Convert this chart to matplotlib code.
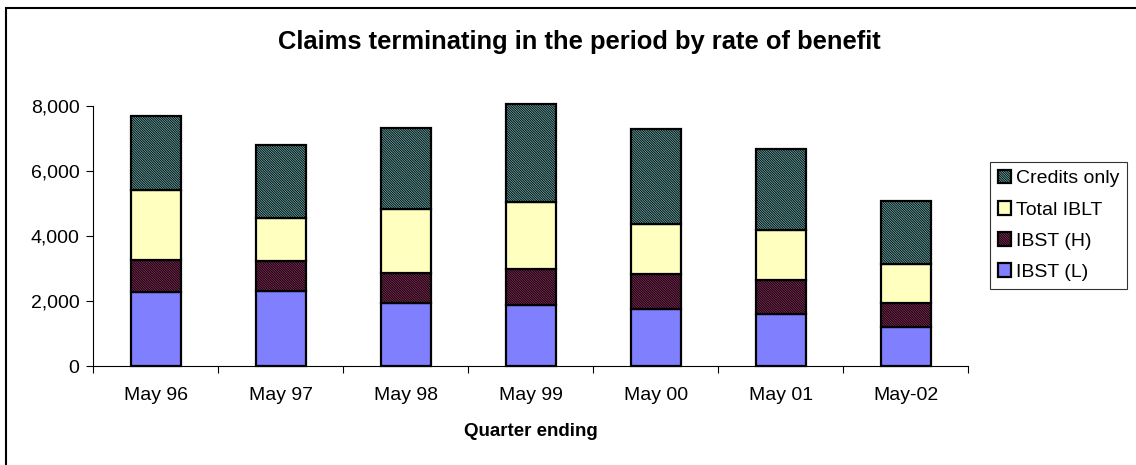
import numpy as np
import matplotlib
matplotlib.use("Agg")
import matplotlib.pyplot as plt
from matplotlib.patches import Rectangle
from matplotlib.ticker import FuncFormatter

# data
quarters = ["May 96", "May 97", "May 98", "May 99", "May 00", "May 01", "May-02"]
ibst_l = [2280, 2290, 1930, 1880, 1750, 1600, 1200]
ibst_h = [980, 940, 920, 1100, 1080, 1030, 730]
total_iblt = [2150, 1330, 1970, 2050, 1530, 1560, 1220]
credits_only = [2280, 2240, 2490, 3030, 2920, 2480, 1930]

plt.rcParams['font.family'] = ['Liberation Sans', 'DejaVu Sans']
plt.rcParams['hatch.linewidth'] = 0.6

fig = plt.figure(figsize=(11.36, 4.65), dpi=100)
ax = fig.add_axes([93.3 / 1136, 99 / 465, (968 - 93.3) / 1136, 260.3 / 465])

x = np.arange(len(quarters))
w = 0.4
series = [
    ("IBST (L)", ibst_l, "#8080ff", None),
    ("IBST (H)", ibst_h, "#8a2a5a", "\\" * 14),
    ("Total IBLT", total_iblt, "#ffffc0", None),
    ("Credits only", credits_only, "#6aa8a8", "\\" * 14),
]
bottom = np.zeros(len(quarters))
handles = []
for name, vals, col, hatch in series:
    bars = ax.bar(x, vals, w, bottom=bottom, color=col, edgecolor="black",
                  linewidth=1.6, hatch=hatch, label=name, clip_on=False, zorder=3)
    handles.append(bars)
    bottom += np.array(vals)

ax.set_xlim(-0.5, len(quarters) - 0.5)
ax.set_ylim(0, 8000)
ax.set_yticks([0, 2000, 4000, 6000, 8000])
ax.yaxis.set_major_formatter(FuncFormatter(lambda v, p: f"{int(v):,}"))
ax.set_xticks(x)
ax.set_xticklabels(quarters)
ax.set_xticks(np.arange(-0.5, len(quarters)), minor=True)
ax.tick_params(axis="x", which="major", length=0, labelsize=14, pad=15)
ax.tick_params(axis="x", which="minor", length=5, width=0.8, direction="out")
ax.tick_params(axis="y", length=5, width=0.8, labelsize=14, pad=5)
for s in ["top", "right"]:
    ax.spines[s].set_visible(False)
ax.spines["left"].set_linewidth(0.8)
ax.spines["bottom"].set_linewidth(0.8)

ax.set_xlabel("Quarter ending", fontsize=13.5, fontweight="bold", labelpad=14)
fig.text(0.51, 1 - 42 / 465, "Claims terminating in the period by rate of benefit",
         ha="center", va="center", fontsize=18.4, fontweight="bold")

leg = fig.legend(handles[::-1], [s[0] for s in series][::-1],
                 loc="upper left", bbox_to_anchor=(990 / 1136, 1 - 162 / 465),
                 fontsize=14, frameon=True, fancybox=False, edgecolor="black",
                 handlelength=0.7, handleheight=0.7, handletextpad=0.25,
                 labelspacing=0.7, borderpad=0.4, borderaxespad=0)
leg.get_frame().set_linewidth(0.8)

# outer frame of the chart area
fig.patches.append(Rectangle((6 / 1136, -0.05), 1.1, (465 - 8) / 465 + 0.05,
                             transform=fig.transFigure, fill=False,
                             edgecolor="black", linewidth=1.5))

fig.savefig("out.png", dpi=100)
